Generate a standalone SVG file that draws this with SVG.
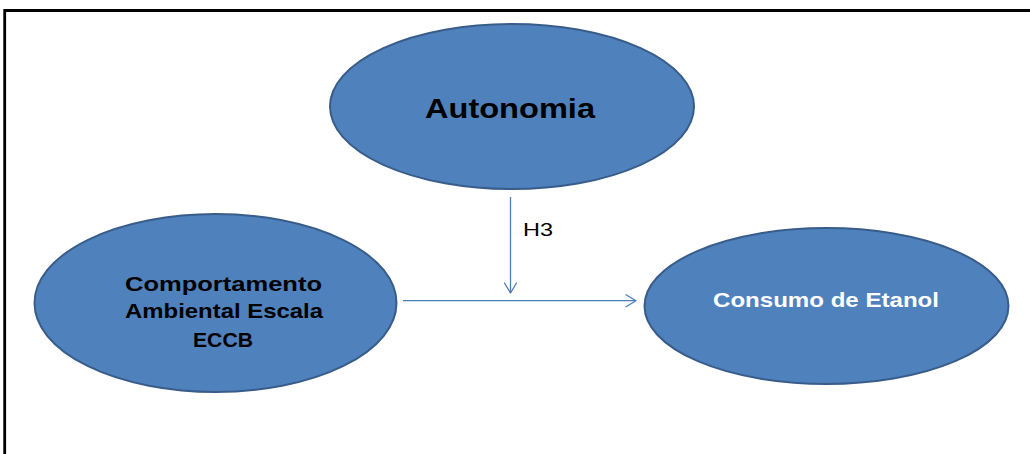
<svg xmlns="http://www.w3.org/2000/svg" width="1030" height="454" viewBox="0 0 1030 454">
  <style>
    .node { fill: #4F81BD; stroke: #385D8A; stroke-width: 2; }
    .lbl { font-family: "Liberation Sans", Arial, sans-serif; font-weight: bold; text-anchor: middle; }
    .dark { fill: #000000; }
    .light { fill: #FFFFFF; }
    .edge { stroke: #4A7EBB; stroke-width: 1.3; fill: none; }
    .head { stroke: #4A7EBB; stroke-width: 1.3; fill: none; stroke-linecap: round; stroke-linejoin: round; }
  </style>
  <defs>
    <marker id="open-arrow" viewBox="0 0 12 14" refX="11" refY="7" markerWidth="12" markerHeight="14" markerUnits="userSpaceOnUse" orient="auto">
      <path class="head" d="M1,1 L11,7 L1,13"/>
    </marker>
  </defs>

  <rect width="1030" height="454" fill="#FFFFFF"/>

  <!-- frame: top and left edges -->
  <path d="M4.7,454 L4.7,10.5 L1030,10.5" fill="none" stroke="#000000" stroke-width="2.8"/>

  <g id="node-autonomia">
    <ellipse class="node" cx="512" cy="106.5" rx="182" ry="82.5"/>
    <text class="lbl dark" x="510" y="118.3" font-size="28" textLength="170" lengthAdjust="spacingAndGlyphs">Autonomia</text>
  </g>

  <g id="node-comportamento">
    <ellipse class="node" cx="215.5" cy="303" rx="181" ry="89"/>
    <text class="lbl dark" x="223.5" y="290.7" font-size="21" textLength="197" lengthAdjust="spacingAndGlyphs">Comportamento</text>
    <text class="lbl dark" x="224" y="318" font-size="21" textLength="198" lengthAdjust="spacingAndGlyphs">Ambiental Escala</text>
    <text class="lbl dark" x="223" y="347" font-size="21" textLength="60" lengthAdjust="spacingAndGlyphs">ECCB</text>
  </g>

  <g id="node-consumo">
    <ellipse class="node" cx="826.5" cy="306" rx="182" ry="78"/>
    <text class="lbl light" x="826" y="307.3" font-size="21" textLength="226" lengthAdjust="spacingAndGlyphs">Consumo de Etanol</text>
  </g>

  <g id="connectors">
    <line class="edge" x1="510.5" y1="197" x2="510.5" y2="293" marker-end="url(#open-arrow)"/>
    <line class="edge" x1="403" y1="300.7" x2="636" y2="300.7" marker-end="url(#open-arrow)"/>
    <text x="523" y="235.7" font-family="'Liberation Sans', Arial, sans-serif" font-size="18.5" fill="#000000" textLength="30" lengthAdjust="spacingAndGlyphs">H3</text>
  </g>
</svg>
